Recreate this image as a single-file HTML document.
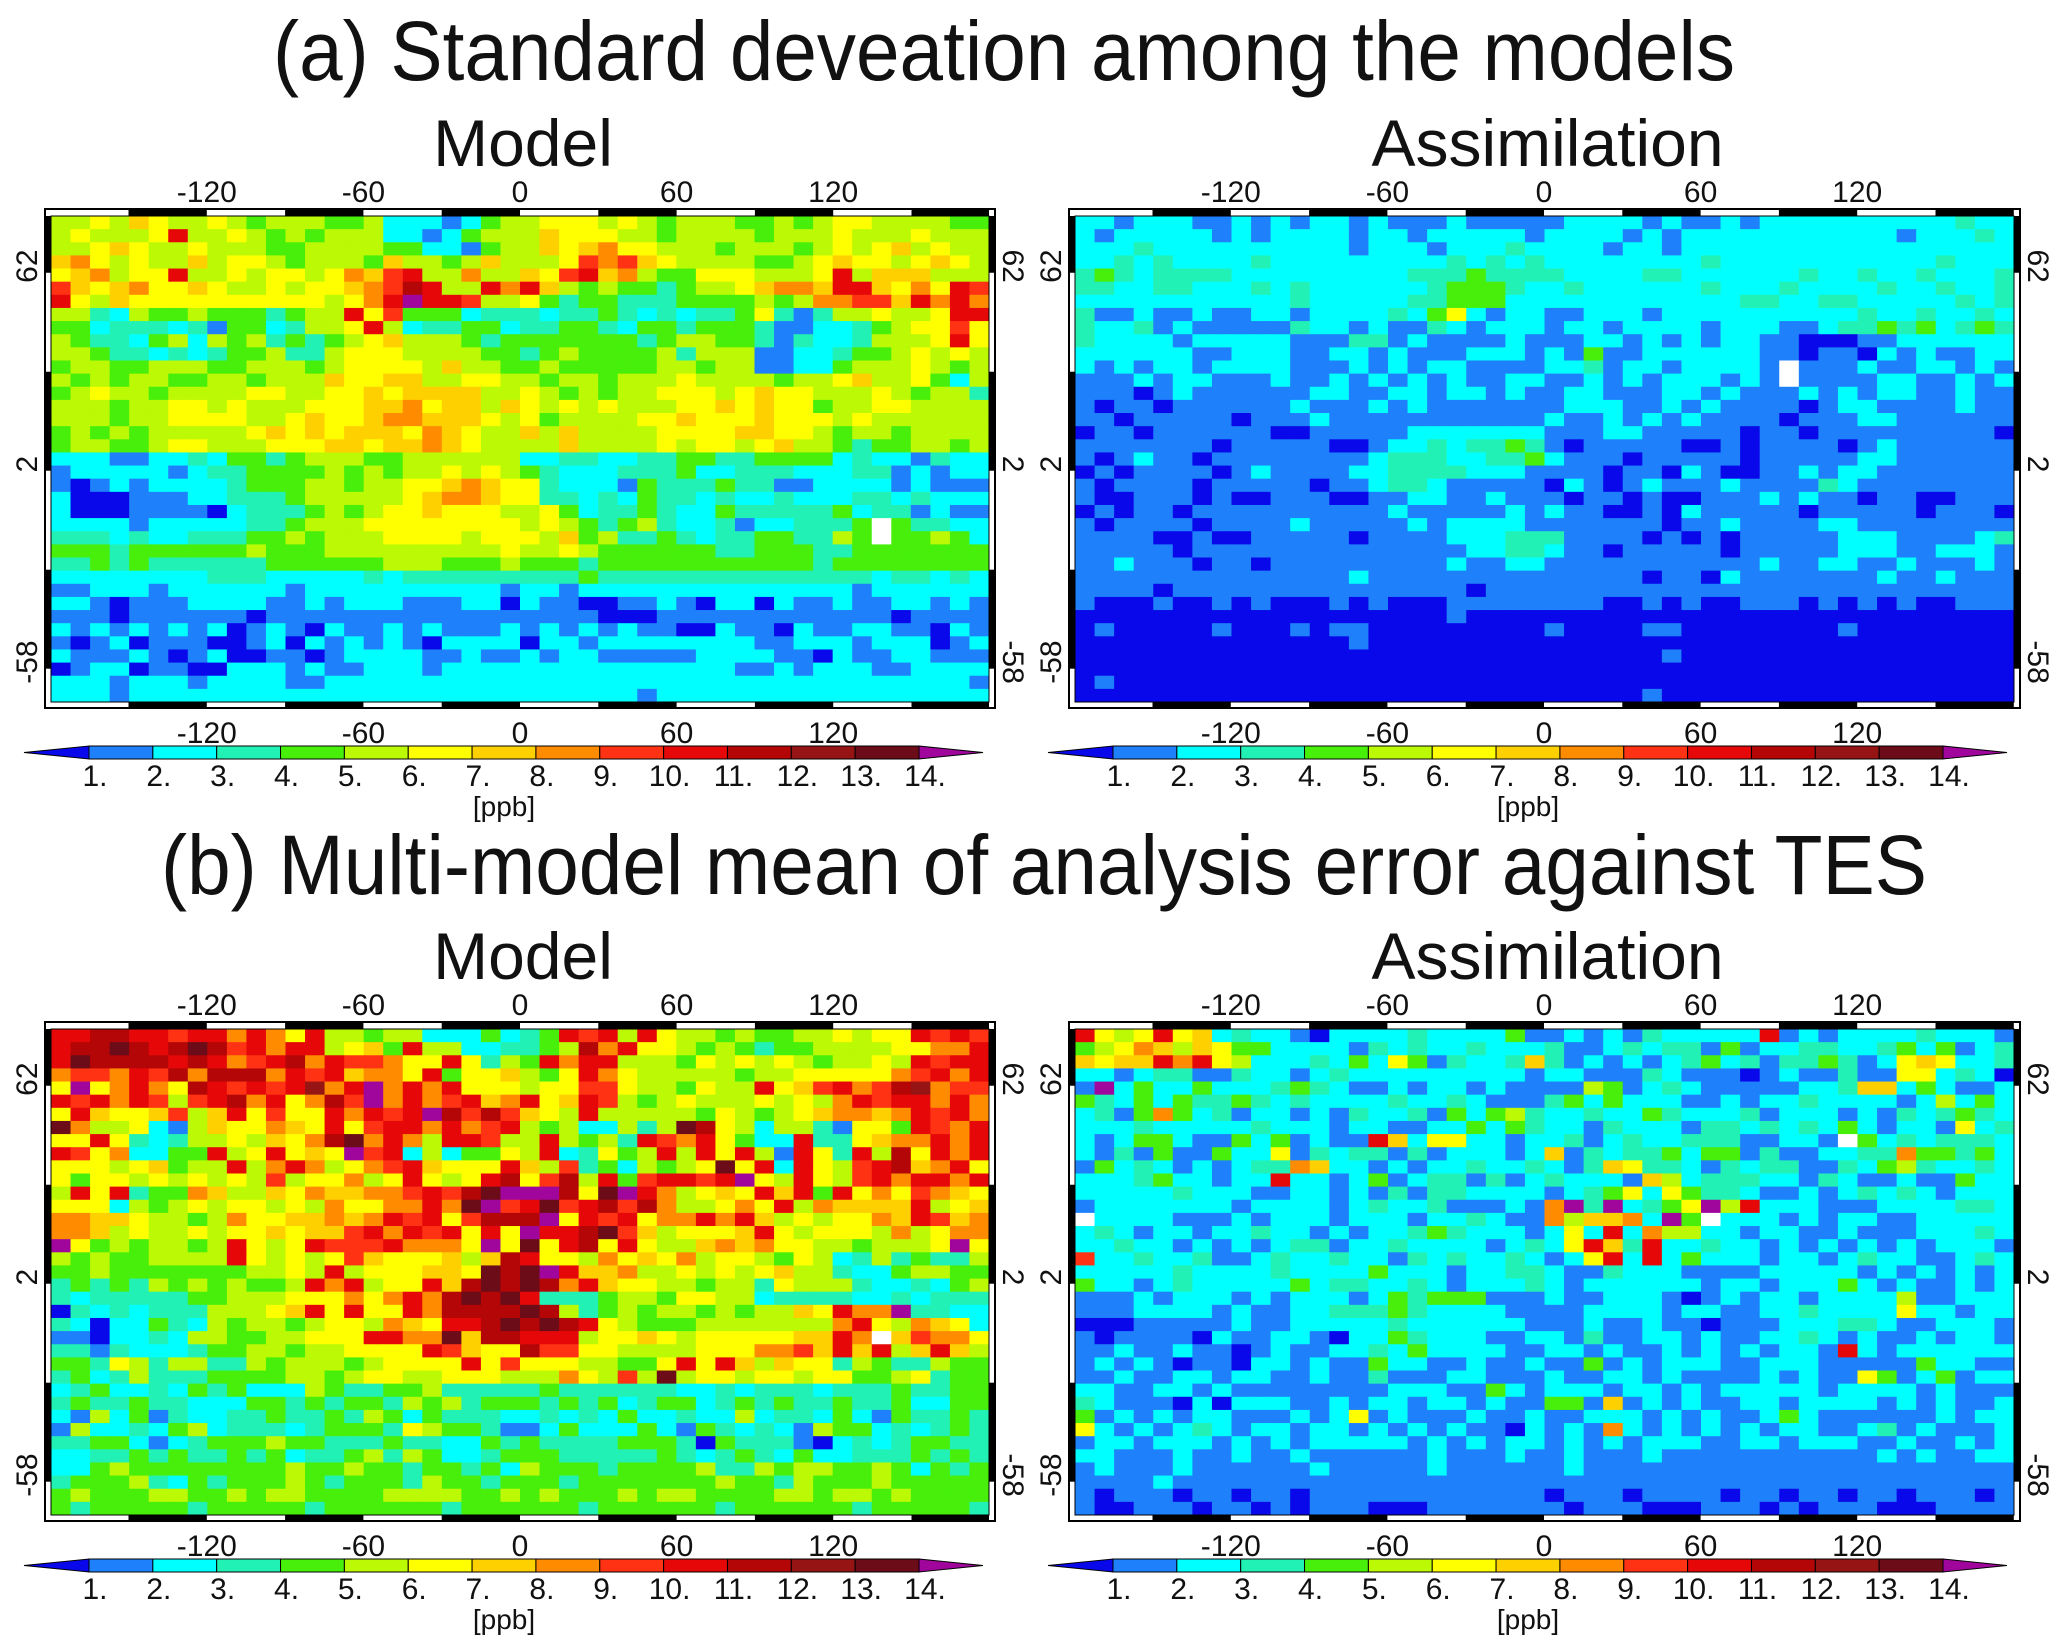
<!DOCTYPE html>
<html><head><meta charset="utf-8">
<style>
html,body{margin:0;padding:0;background:#fff;}
svg{display:block;}
text{font-family:"Liberation Sans",sans-serif;fill:#111;}
</style></head>
<body>
<svg id="fig" width="2067" height="1648" viewBox="0 0 2067 1648" xmlns="http://www.w3.org/2000/svg">
<text x="1004" y="80" font-size="84" text-anchor="middle" textLength="1462" lengthAdjust="spacingAndGlyphs">(a) Standard deveation among the models</text>
<text x="1044" y="894" font-size="84" text-anchor="middle" textLength="1766" lengthAdjust="spacingAndGlyphs">(b) Multi-model mean of analysis error against TES</text>
</svg>
<script>
// ---- data: binned ppb values per grid cell (hex digit = bin, 'w' = missing) ----
const binLabels = ['1.','2.','3.','4.','5.','6.','7.','8.','9.','10.','11.','12.','13.','14.'];
const lonTicks = [-120,-60,0,60,120];
const latTicks = [62,2,-58];
const panelTitles = ['Model','Assimilation','Model','Assimilation'];

const aModel = [
"556576556545554452221245566656545554454566555544",
"565556a55654545552212455576665545555455565556555",
"556765565554455554422145576786655545554565675655",
"786565575665455547554575556989765555445676656765",
"678566a55656656879a55855769a785446665556a5777555",
"976786676556566789ba55a8a754544345567887aa7686a9",
"a6576666666666568aeaa95564344333444454588997a8a8",
"553254454443455a694442333233432323346313556556aa",
"4423332314423556a5233442334432443444311223456696",
"5433245254534345675554344444443455443132235556a6",
"554332323445335666555544345444453555112234456565",
"455445554455545666657554454444455455112245556545",
"545455445545557667755665545545556555545567556425",
"456554555566556676777755654545566656766555654553",
"555455665655566677867757656565556676766455665555",
"555455666655676678877765645555667666766656555555",
"454545555567676777687655757555566667766545545555",
"455445665556667767787655557555565665675543445545",
"222112232443455544555555223322334433444423221322",
"122222123344445454556565432223334223332223312122",
"101212222344455455667876632221433343311222212111",
"200011122333455555678876633232433232232223323222",
"200011110233345456676665564233432243333342331211",
"222212222233455566666666565434532231223334w43322",
"333232233344545556666566657453343233443354w44542",
"444344444454445555555556556544444433444334444444",
"334343333334444445554445444344444444444344444444",
"222222223332222232333333333433333333333333233232",
"112221222222122222222221221222222222222221222222",
"221011122221121222111220211001121022021121122121",
"111011111101111111111111111100011111111111101111",
"212121212012102112121112121212110021102112211021",
"101201110012021212102222022122222222112221222012",
"211121012001101222211211212211111222211021122111",
"012201100222121122212222222222222221121222112222",
"222122212222112222222222222222222222222222222221",
"222122222222222222222222222222122222222222222222"];

const aAssim = [
"221222112121221211121111122221211212222222222322",
"212222212122221221222221222212122222222222122232",
"222322222222221222122232222122122222222222222222",
"223232222322222222232323222222223222222222223222",
"343233332222222223334333322223322222232232232223",
"332233222323222222344432232222223222322223223223",
"222222222223222223344422222222222233223322222323",
"311211211221222232462122112221222222222232232232",
"322312111113221211321222122122221222112334342343",
"322221222221113312111121112212121221100011222222",
"222222112221122121112221214112222221101102121122",
"212122122221112121221111223122122221w11121122121",
"111212211121121212121122112121222121w11112211212",
"111012111111221122122121122111221211121212211211",
"101101111112111212111111122211212111101221111211",
"110111110111211111111111211212121111011122111111",
"011011111100111112222222111221111101101111111110",
"111111101111100122323343101111100101111012111111",
"101211011111111233322334211101111101111122111111",
"010111101211112233332221111011021001121221111111",
"101111011111011233211111021012111211113211111111",
"100111010011100112211211101101001112121101100111",
"010110111111111121111121211001021111101111101110",
"101111011112111112122221111111011211112211111111",
"111100100111110111122233311110101011111222111123",
"111110111111111111112233211011111011111222112221",
"112111011011111111121122111111111112112211211121",
"111111111111112111111111111110110211111112112111",
"111101111111111111110111111111111111111111111111",
"100010010100010100011111111001010011101010100111",
"000000000000000000010000000000000000000000000000",
"010000010001011000000000100001100000000100000000",
"000000000000001000000000000000000000000000000000",
"000000000000000000000000000000100000000000000000",
"000000000000000000000000000000000000000000000000",
"010000000000000000000000000000000000000000000000",
"000000000000000000000000000001000000000000000000"];

const bModel = [
"aabbaa9aa8a86a554552224234a9a5a6554544556566a9a9",
"abbdbabdb9a8aa5674a55223345b8a66545434455556688a",
"adbbbbaba89ab8a99866a6354a8aa555465656545565a9aa",
"8998a9b8bbb8a9a7886a4667546a86555554556666689a8a",
"6e68a86ba9a9ac8ae8a8a666566996554655a679a89bc899",
"a9a8a959ab8a68b9e8a89a78a67a9545655565658a9aa8a8",
"6a7667957a6966a8a9aeb9b9765a5555546545678878a9a8",
"d8556215766876a69aa8a89a54522535db6525531664a98a",
"66a63235565768bd8a85aa955a5453a98a6422a336788a8a",
"a9682244a56a676e9a2524465a23645a5a6a51a63a5b6a8a",
"666567455a58a85689a7666a7593425456d6a2a659ab78a6",
"646656565659566856a656ab69b5a49aa9ae65a659a8aa8a",
"5a6a344875576877889a9bdeeeb6dea85676a7a4a6869876",
"6662545656656586688a8de9ad9ab9b855686a587777a567",
"88776554586677878a9a69bbbe6a9a688a8a75656687a978",
"8875655656676779a8a9a6a6eaabd9756667a65666585688",
"e64545545a656a999a8886e6d6ab6a6557878665545556e6",
"545445555a6565697666757ba66586768566546523534335",
"44544444445565a5666776dbdea778556565675532245544",
"3434354545445a8a566a7bdbdb8a76655455365553223245",
"323333344555666868a8bdbda33345546655233332232333",
"0323233355567a6a66a8bbbbdb53454554545576a88e3322",
"32022432545545665876aabdbdba6544455555558a658762",
"1102232554455666aa88d7bbaaa5667656666677a8w79886",
"3313222344554556666a9766b996655556668897a7a57a75",
"443653553354555456666a6966655446a6a7576635433544",
"3423533344445545665566655586595d5665665664456344",
"234223243422254334453333343333332232333233343344",
"343343322244343443545344434342344234343343342244",
"215241322334334354243332232324223225233242143343",
"152232452333234443654431124222421432321544232343",
"334421234445443334332243433334443043331023234433",
"223343433434233453542234443333343234324223334343",
"224544444444544544344342544434444533545544542434",
"344453243444543444354434443444444454435444544444",
"454445544545544445555445454445455444455455454444",
"434444434444434444443444444344444434444443444443"];

const bAssim = [
"a656a672322102222322224112121322222a121222232221",
"456875764422221323223222311232331412233223424123",
"7677a8a65222324264132237312121234231334312676223",
"221233113221232222222221221113211101211311662320",
"1e2422422234321121221211115412321111122377242112",
"432424334323222232232111342422211212232222125242",
"231484231221213223142453223224322231222121323432",
"222322222322212211224243221322213323232421221623",
"212442114241211a72662212231232233311221w42323332",
"213141142261323313122212713233424413112233844342",
"142321212338722121223223213763321323311324532232",
"2223422122a221241233131232221752333221321121142",
"222223222112212131332222123462643321121232321222",
"1222222212222123223111218e3e2346e5a2221112222332",
"w22221112122212221223211857782e4w222121221122222",
"232122122322121223432221262a28552212211211122232",
"22322121212331223222212326a73a223221212121212221",
"922322311232232213232232126a2a242221221232211232",
"222223222232222422212233211322211112222212121212",
"422123222224233223212223212222221221222421211212",
"111212221212221243444111211222101212212222511222",
"111222212112233343222211112222122112232222622122",
"000111112112222232222221112112110111222332112221",
"101111021122102243222112213112212112232121121221",
"112112110121122324222211221211212121221a21222222",
"121210110221211422112112114121222112221111142211",
"112112212211211311122111211221211112121164124122",
"221122121111111122211421222122121222221222212111",
"321110202221121221221211441712121122122221212112",
"412121221112126121112112112221212112421111112122",
"621212321221221212121102121821212121221123121112",
"122122212121222221212122121212221122122211211212",
"221112112112111111211121121112111111111112121122",
"121112111111211111211111121111111111111111111111",
"111121111111111111111111111111111111111111111111",
"101110110110111111111111011101111011011011011101",
"100111011010111000111111101110001110101110001111"];

const panelData = [aModel, aAssim, bModel, bAssim];
const colorScale = ['#0808ea','#1f80fb','#00ffff','#22f1b6','#47ef0b','#bbf905','#ffff00','#ffd000','#ff8c00','#ff3214','#e60808','#b40606','#961414','#6c0c18','#a0069c'];

const NS='http://www.w3.org/2000/svg';
const svg=document.getElementById('fig');
function mk(tag,attrs,parent){const e=document.createElementNS(NS,tag);for(const k in attrs)e.setAttribute(k,attrs[k]);(parent||svg).appendChild(e);return e;}
function colorFor(v){if(isNaN(v))return '#ffffff';let i=Math.floor(v);if(i<0)i=0;if(i>14)i=14;return colorScale[i];}

const panels=[{x0:51,x1:989,y0:216,y1:702,cx:520},{x0:1075,x1:2014,y0:216,y1:702,cx:1544},
              {x0:51,x1:989,y0:1029,y1:1515,cx:520},{x0:1075,x1:2014,y0:1029,y1:1515,cx:1544}];
const NC=48, NR=37, LATTOP=77.2, LATBOT=-70.1;

panels.forEach((p,pi)=>{
  const g=mk('g',{});
  
  
  const xLon=lon=>p.cx+lon*2.61;
  const yLat=lat=>p.y0+(LATTOP-lat)*(p.y1-p.y0)/(LATTOP-LATBOT);
  const xCol=c=>p.x0+c*(p.x1-p.x0)/NC;
  const yRow=r=>p.y0+r*(p.y1-p.y0)/NR;
  const rows=panelData[pi];
  const cw=(p.x1-p.x0)/NC, ch=(p.y1-p.y0)/NR;
  for(let r=0;r<NR;r++){
    const row=rows[r]||rows[rows.length-1];
    for(let c=0;c<NC;c++){
      const ch0=row[c]!==undefined?row[c]:row[row.length-1];
      const v=ch0==='w'?NaN:parseInt(ch0,16)+0.5;
      const rc=mk('rect',{x:xCol(c).toFixed(2),y:yRow(r).toFixed(2),width:(cw+0.6).toFixed(2),height:(ch+0.6).toFixed(2),fill:colorFor(v)},g);
      
      
    }
  }
  const fx0=p.x0-6, fx1=p.x1+6, fy0=p.y0-7, fy1=p.y1+6;
  mk('rect',{x:fx0,y:fy0,width:fx1-fx0,height:7,fill:'#fff'},g);
  mk('rect',{x:fx0,y:p.y1,width:fx1-fx0,height:6,fill:'#fff'},g);
  mk('rect',{x:fx0,y:fy0,width:6,height:fy1-fy0,fill:'#fff'},g);
  mk('rect',{x:p.x1,y:fy0,width:6,height:fy1-fy0,fill:'#fff'},g);
  for(let k=0;k<12;k++){
    if(k%2===1){
      const a=Math.max(p.x0,xLon(-180+30*k)), b=Math.min(p.x1,xLon(-150+30*k));
      mk('rect',{x:a,y:fy0,width:b-a,height:7,fill:'#000'},g);
      mk('rect',{x:a,y:p.y1,width:b-a,height:6,fill:'#000'},g);
    }
  }
  const latB=[LATTOP,60,30,0,-30,-60,LATBOT];
  for(let k=0;k<6;k++){
    if(k%2===0){
      const a=yLat(latB[k]), b=yLat(latB[k+1]);
      mk('rect',{x:fx0,y:a,width:6,height:b-a,fill:'#000'},g);
      mk('rect',{x:p.x1,y:a,width:6,height:b-a,fill:'#000'},g);
    }
  }
  mk('rect',{x:fx0,y:fy0,width:fx1-fx0,height:fy1-fy0,fill:'none',stroke:'#000','stroke-width':2},g);
  mk('rect',{x:p.x0,y:p.y0,width:p.x1-p.x0,height:p.y1-p.y0,fill:'none',stroke:'#000','stroke-width':1},g);

  const t=mk('text',{x:(p.x0+p.x1)/2+3,y:p.y0-50,'font-size':66,'text-anchor':'middle'},svg);
  t.textContent=panelTitles[pi];
  
  
  lonTicks.forEach(L=>{
    const a=mk('text',{x:xLon(L),y:p.y0-14,'font-size':30,'text-anchor':'middle'},svg);
    a.textContent=L;
    
    
    const b=mk('text',{x:xLon(L),y:p.y1+41,'font-size':30,'text-anchor':'middle'},svg);
    b.textContent=L;
    
    
  });
  latTicks.forEach(L=>{
    const y=yLat(L);
    const lx=p.x0-14, rx=p.x1+14;
    const a=mk('text',{x:lx,y:y,'font-size':30,'text-anchor':'middle',transform:`rotate(-90 ${lx} ${y})`},svg);
    a.textContent=L;
    
    
    const b=mk('text',{x:rx,y:y,'font-size':30,'text-anchor':'middle',transform:`rotate(90 ${rx} ${y})`},svg);
    b.textContent=L;
    
    
  });

  const cb=mk('g',{},svg);
  
  
  const bx0=p.x0+38, bx1=p.x0+868, by0=p.y1+44, by1=p.y1+57, bw=(bx1-bx0)/13, my=(by0+by1)/2;
  const lt=mk('polygon',{points:`${bx0-65},${my} ${bx0},${by0} ${bx0},${by1}`,fill:colorScale[0],stroke:'#000','stroke-width':1},cb);
  
  
  for(let k=1;k<=13;k++){
    const r=mk('rect',{x:bx0+(k-1)*bw,y:by0,width:bw,height:by1-by0,fill:colorScale[k],stroke:'#000','stroke-width':1},cb);
    
    
  }
  const rt=mk('polygon',{points:`${bx1},${by0} ${bx1+64},${my} ${bx1},${by1}`,fill:colorScale[14],stroke:'#000','stroke-width':1},cb);
  
  
  binLabels.forEach((s,k)=>{
    const tx=mk('text',{x:bx0+k*bw+6,y:by1+27,'font-size':30,'text-anchor':'middle'},cb);
    tx.textContent=s;
    
    
  });
  const u=mk('text',{x:bx0+6.5*bw,y:by1+57,'font-size':28,'text-anchor':'middle'},cb);
  u.textContent='[ppb]';
  
  
});
</script>
</body></html>
